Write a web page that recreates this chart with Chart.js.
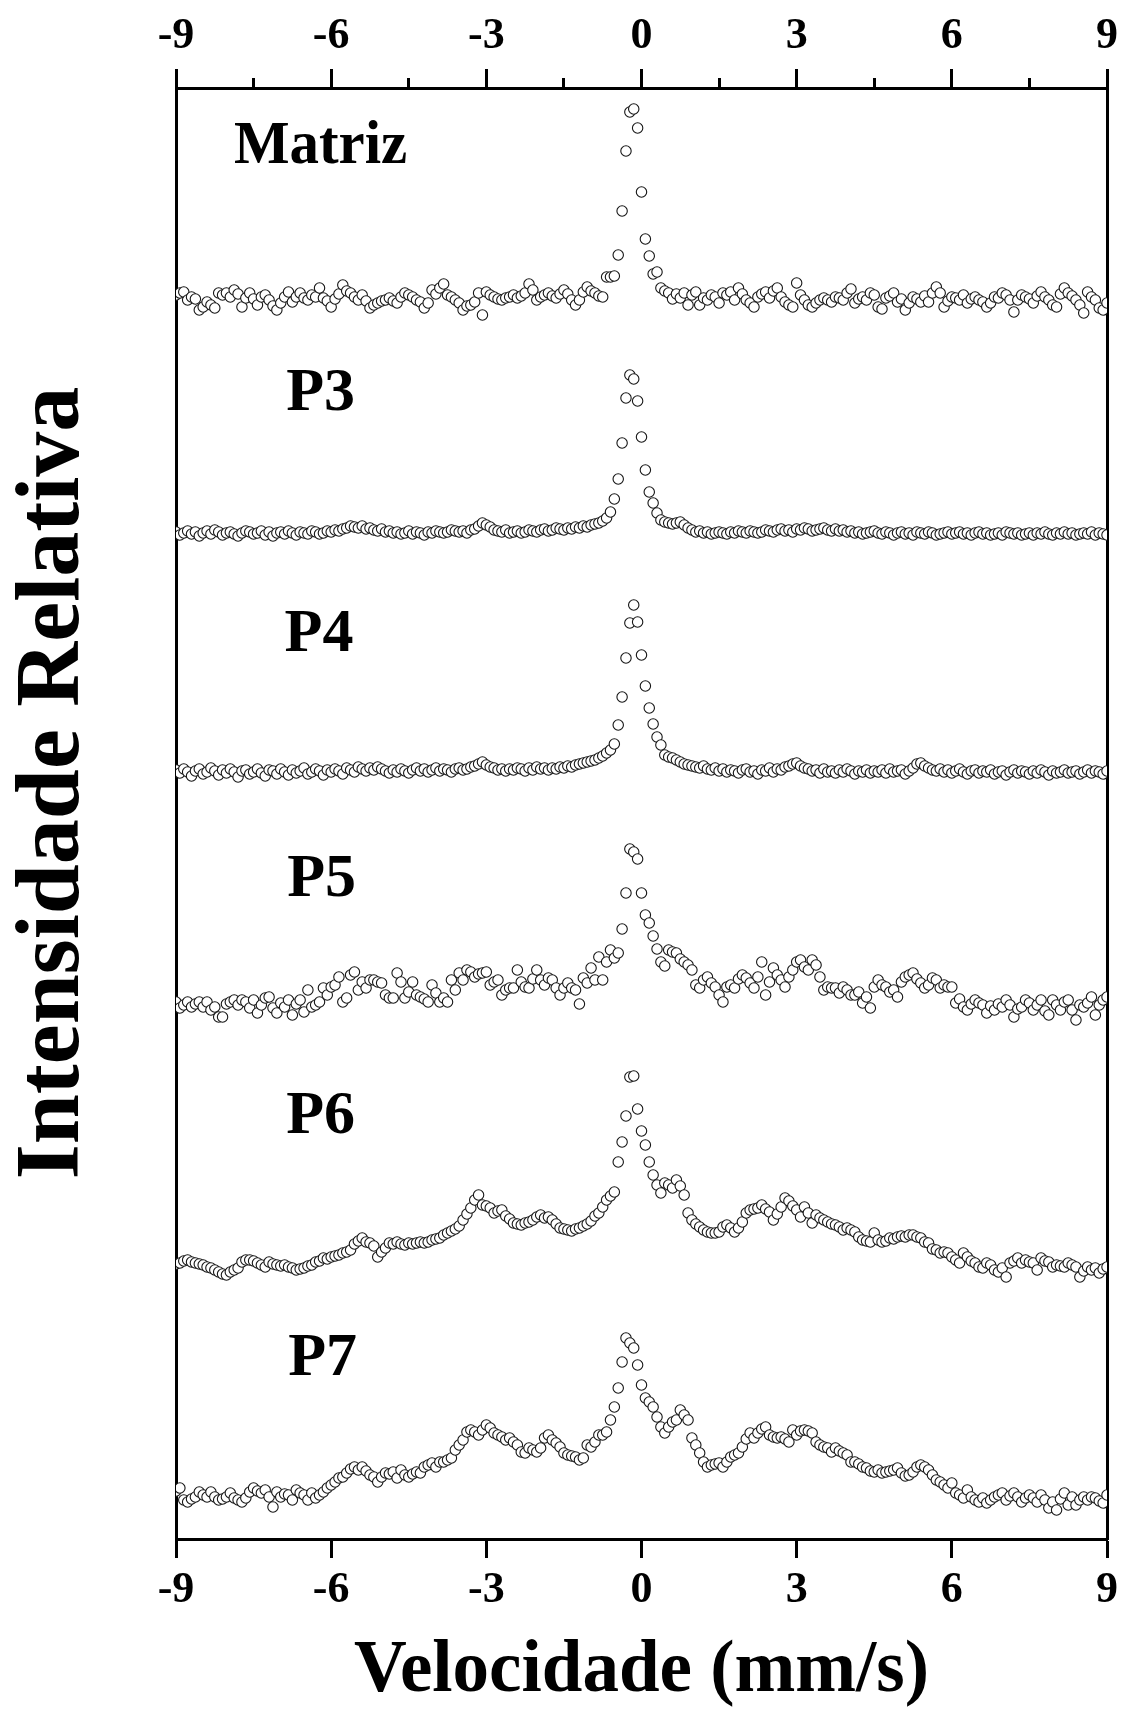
<!DOCTYPE html>
<html>
<head>
<meta charset="utf-8">
<script src="https://cdn.jsdelivr.net/npm/chart.js@4.4.1/dist/chart.umd.min.js"></script>
<style>
html,body{margin:0;padding:0;background:#ffffff;}
canvas{display:block;}
</style>
</head>
<body>
<canvas id="chart" width="1123" height="1718"></canvas>
<script>
// ---- Velocity channels (mm/s) ----
const velocity = [
-9,-8.925,-8.85,-8.775,-8.7,-8.625,-8.55,-8.475,-8.4,-8.325,
-8.25,-8.175,-8.1,-8.025,-7.95,-7.875,-7.8,-7.725,-7.65,-7.575,
-7.5,-7.425,-7.35,-7.275,-7.2,-7.125,-7.05,-6.975,-6.9,-6.825,
-6.75,-6.675,-6.6,-6.525,-6.45,-6.375,-6.3,-6.225,-6.15,-6.075,
-6,-5.925,-5.85,-5.775,-5.7,-5.625,-5.55,-5.475,-5.4,-5.325,
-5.25,-5.175,-5.1,-5.025,-4.95,-4.875,-4.8,-4.725,-4.65,-4.575,
-4.5,-4.425,-4.35,-4.275,-4.2,-4.125,-4.05,-3.975,-3.9,-3.825,
-3.75,-3.675,-3.6,-3.525,-3.45,-3.375,-3.3,-3.225,-3.15,-3.075,
-3,-2.925,-2.85,-2.775,-2.7,-2.625,-2.55,-2.475,-2.4,-2.325,
-2.25,-2.175,-2.1,-2.025,-1.95,-1.875,-1.8,-1.725,-1.65,-1.575,
-1.5,-1.425,-1.35,-1.275,-1.2,-1.125,-1.05,-0.975,-0.9,-0.825,
-0.75,-0.675,-0.6,-0.525,-0.45,-0.375,-0.3,-0.225,-0.15,-0.075,
0,0.075,0.15,0.225,0.3,0.375,0.45,0.525,0.6,0.675,
0.75,0.825,0.9,0.975,1.05,1.125,1.2,1.275,1.35,1.425,
1.5,1.575,1.65,1.725,1.8,1.875,1.95,2.025,2.1,2.175,
2.25,2.325,2.4,2.475,2.55,2.625,2.7,2.775,2.85,2.925,
3,3.075,3.15,3.225,3.3,3.375,3.45,3.525,3.6,3.675,
3.75,3.825,3.9,3.975,4.05,4.125,4.2,4.275,4.35,4.425,
4.5,4.575,4.65,4.725,4.8,4.875,4.95,5.025,5.1,5.175,
5.25,5.325,5.4,5.475,5.55,5.625,5.7,5.775,5.85,5.925,
6,6.075,6.15,6.225,6.3,6.375,6.45,6.525,6.6,6.675,
6.75,6.825,6.9,6.975,7.05,7.125,7.2,7.275,7.35,7.425,
7.5,7.575,7.65,7.725,7.8,7.875,7.95,8.025,8.1,8.175,
8.25,8.325,8.4,8.475,8.55,8.625,8.7,8.775,8.85,8.925,
9
];

// ---- Relative intensity of each spectrum (arbitrary units, above its own baseline) ----
const matriz = [
2,4,5,-3,0,-2,-13,-10,-5,-8,
-11,4,2,4,0,7,3,-10,-1,4,
-2,-8,0,2,-3,-9,-13,-6,0,5,
-5,0,4,-1,-3,2,0,9,-1,-4,
-10,-2,3,12,6,4,0,-3,2,-4,
-11,-8,-6,-4,-3,-1,-4,-6,0,4,
2,0,-3,-5,-11,-6,7,3,9,13,
2,0,-3,-6,-13,-9,-8,-5,4,-18,
5,2,0,-2,-3,-1,0,2,-1,1,
4,13,7,-3,0,2,4,1,-1,3,
7,3,-3,-8,-3,5,10,6,4,1,
0,20,20,21,42,86,146,185,188,169,
105,58,41,23,25,9,6,4,-2,3,
-1,4,-8,2,5,-8,-1,-3,2,0,
-6,4,2,5,-3,9,3,-3,-6,-10,
0,3,5,-1,6,9,0,-5,-8,-10,
14,2,-3,-8,-10,-6,-3,-1,-3,-5,
0,-1,-3,4,8,-6,-2,0,-3,4,
2,-10,-12,-1,1,4,-5,-2,-13,-6,
0,-2,-5,1,-5,4,10,4,-10,-4,
0,-1,-3,2,-6,-2,0,-3,-5,-10,
-6,0,-1,4,2,-3,-15,-3,2,0,
-2,-6,1,5,0,-3,-8,-10,3,9,
4,1,-3,-8,-16,5,0,-3,-11,-13,
-6
];
const p3 = [
1,-2,0,2,-1,1,-3,0,2,-1,
3,1,-2,0,1,-1,-3,0,2,1,
-1,0,2,-2,1,-3,0,1,-1,2,
0,-2,1,0,-1,2,1,-1,0,2,
1,3,2,4,5,7,6,5,7,4,
5,3,2,4,1,2,0,1,-1,0,
2,-1,1,0,-2,1,0,2,1,0,
1,3,2,1,2,0,3,4,7,10,
8,6,3,2,1,3,0,1,2,0,
1,3,2,1,3,4,2,3,5,4,
3,5,4,6,5,7,6,8,9,10,
12,15,21,34,54,90,135,158,154,132,
96,63,41,30,20,13,11,10,9,10,
11,8,5,3,1,2,0,1,-1,0,
1,0,-1,1,0,2,1,0,2,1,
0,1,3,2,1,3,4,2,3,1,
4,3,5,4,2,3,4,5,3,2,
4,2,3,1,2,0,1,-1,0,1,
2,0,-1,1,0,-2,0,1,-1,0,
-2,1,0,-1,1,0,-2,-1,0,1,
-1,0,1,-1,0,-2,0,1,-1,0,
-2,-1,0,-2,1,0,-1,0,-2,-1,
0,-2,0,-1,1,-1,-2,0,-1,1,
-1,0,-2,-1,0,-1,1,-2,0,-1,
-2
];
const p4 = [
2,-1,3,0,-4,1,3,-2,0,4,
1,-3,2,-1,3,0,-5,1,2,-2,
0,3,-1,-4,2,1,-2,3,0,-3,
2,-1,1,4,-2,0,3,1,-3,2,
0,3,1,-2,4,2,0,5,3,1,
4,2,5,3,1,-1,2,0,3,1,
-1,2,4,1,3,0,2,4,1,3,
2,0,3,4,2,3,5,6,8,10,
7,5,4,2,3,1,3,2,4,3,
1,4,2,5,3,4,2,4,3,5,
4,6,5,7,8,9,10,11,12,14,
16,19,22,28,47,75,114,149,167,150,
117,86,64,48,35,27,17,15,14,12,
10,8,7,6,5,4,6,3,2,4,
1,3,0,2,1,-1,2,3,0,1,
-2,2,1,4,0,3,2,5,6,8,
9,6,4,3,1,2,-1,3,0,1,
-1,2,0,3,1,-2,1,0,2,-1,
1,0,2,-1,3,0,1,2,-2,1,
4,8,9,6,4,2,1,3,0,2,
-1,1,3,0,-2,1,2,-1,1,0,
2,-2,0,1,-3,0,2,-1,1,0,
-2,1,-1,2,0,-3,1,-1,0,2,
-1,0,1,-2,0,2,-1,1,0,-2,
1
];
const p5 = [
5,-1,2,5,0,3,5,0,5,-3,
0,-10,-10,3,5,7,2,7,5,-1,
7,-6,2,9,10,-1,-6,4,0,7,
-8,3,7,-5,17,0,2,5,19,12,
20,22,30,5,9,32,35,17,25,19,
27,27,25,24,12,9,9,34,25,9,
15,25,12,10,8,5,22,14,5,9,
5,27,17,34,27,37,35,30,33,34,
35,22,25,27,12,17,19,19,37,25,
20,19,28,37,27,22,29,27,19,12,
19,24,19,17,3,29,24,39,27,50,
27,45,57,49,54,78,114,158,155,148,
114,92,84,71,58,45,41,57,55,54,
48,45,42,37,22,19,27,30,24,20,
12,5,20,22,19,28,32,29,24,19,
30,45,12,25,39,32,27,20,30,37,
45,47,40,37,47,42,30,17,20,19,
19,14,20,17,12,12,15,4,10,-1,
20,27,22,20,15,17,10,25,30,32,
34,28,24,19,22,29,27,19,22,20,
20,4,8,0,-3,3,7,4,2,-6,
1,-3,3,0,7,2,-10,-2,0,7,
4,-3,2,7,-4,-8,7,2,-3,5,
7,-3,-13,2,0,4,10,-8,2,7,
10
];
const p6 = [
2,3,5,6,4,3,2,1,-1,-2,
-4,-6,-8,-9,-6,-4,-2,4,6,6,
5,3,1,-1,4,2,1,0,1,-1,
-2,-4,-3,-2,0,1,4,5,8,7,
9,10,11,13,14,16,22,25,28,24,
23,20,9,14,18,23,22,24,22,21,
23,22,23,24,23,24,26,27,28,31,
33,35,37,40,46,52,58,66,71,61,
60,58,53,55,56,50,47,43,42,41,
43,44,46,49,51,48,49,46,42,38,
37,36,35,37,38,40,42,45,50,53,
59,66,70,74,104,124,150,189,190,157,
135,121,104,91,81,73,83,81,78,86,
80,71,53,46,42,39,36,34,33,33,
34,39,41,38,34,38,44,53,56,57,
58,61,57,54,46,52,59,68,65,60,
56,49,59,53,43,51,48,46,44,42,
41,39,36,38,36,34,29,26,25,24,
33,26,24,25,28,27,29,30,29,31,
31,29,28,24,23,17,16,13,14,13,
9,6,3,13,9,5,3,-1,-2,3,
1,-4,-6,-2,-11,3,5,8,3,6,
4,3,-4,8,5,4,-1,1,0,-1,
3,1,-1,-11,-5,-1,-4,-2,-7,-3,
-1
];
const p7 = [
6,9,-3,-5,-2,0,5,2,0,5,
0,-3,-2,0,4,-1,-3,-5,-1,5,
9,6,4,7,0,-10,5,0,3,2,
-3,7,4,2,-3,4,-1,2,5,9,
12,15,19,20,24,28,30,27,30,26,
22,20,15,20,24,23,25,19,27,22,
20,23,25,24,30,32,34,30,35,35,
37,39,47,52,57,65,67,65,62,67,
72,69,64,62,60,57,59,55,52,45,
44,49,47,45,49,59,62,57,54,50,
44,42,41,40,37,39,52,50,55,62,
62,65,77,90,109,135,159,154,149,132,
112,99,95,90,80,70,64,70,75,77,
87,82,77,59,52,44,35,30,32,33,
34,30,35,40,42,44,50,58,64,59,
64,68,70,62,60,59,60,58,55,67,
62,66,67,66,64,55,52,50,49,45,
49,46,44,42,35,35,33,30,29,26,
25,27,24,25,26,27,29,24,21,22,
25,30,32,30,27,22,17,15,12,9,
14,4,2,-1,7,0,-3,-5,-1,-6,
-3,0,2,4,-3,1,4,0,-5,-1,
2,-1,-5,2,-3,-11,-5,-13,-2,4,
-8,0,-8,-3,0,-3,0,-1,-4,-6,
2
];

const sampleNames = ['Matriz', 'P3', 'P4', 'P5', 'P6', 'P7'];
const spectra = [matriz, p3, p4, p5, p6, p7];
// vertical stacking offset of each spectrum (same units as intensity)
const stackOffsets = [1242, 1006, 767, 532, 273, 42];
// axis definition
const velMin = -9, velMax = 9, majorStep = 3, minorStep = 1.5;
const yMin = 0, yMax = 1451;
const axisTitleX = 'Velocidade (mm/s)';
const axisTitleY = 'Intensidade Relativa';
// sample-name label anchors: velocity and height above own baseline
const labelVel = [-7.88, -6.87, -6.9, -6.85, -6.87, -6.83];
const labelRise = [134, 123, 121, 111, 133, 122];
const labelSqueeze = [0.95, 1, 1, 1, 1, 1];

const FONT = "'Liberation Serif','Times New Roman',Times,serif";

const datasets = spectra.map((vals, i) => ({
  label: sampleNames[i],
  data: vals.map((h, k) => ({ x: velocity[k], y: stackOffsets[i] + h })),
  showLine: false,
  pointStyle: 'circle',
  pointRadius: 5.2,
  pointBorderWidth: 1.1,
  pointBorderColor: '#161616',
  pointBackgroundColor: '#ffffff',
  clip: 0,
  xAxisID: 'x',
  yAxisID: 'y'
}));

const isMajor = v => Math.abs(v / majorStep - Math.round(v / majorStep)) < 1e-6;

const textPlugin = {
  id: 'textPlugin',
  afterDraw(chart) {
    const ctx = chart.ctx;
    const xs = chart.scales.x, ys = chart.scales.y;
    sampleNames.forEach((name, i) => {
      ctx.save();
      ctx.fillStyle = '#000';
      ctx.textAlign = 'left';
      ctx.textBaseline = 'alphabetic';
      ctx.font = 'bold 62px ' + FONT;
      ctx.translate(xs.getPixelForValue(labelVel[i]), ys.getPixelForValue(stackOffsets[i] + labelRise[i]));
      ctx.scale(labelSqueeze[i], 1);
      ctx.fillText(name, 0, 0);
      ctx.restore();
    });
    ctx.save();
    ctx.fillStyle = '#000';
    ctx.font = 'bold 90px ' + FONT;
    ctx.textAlign = 'center';
    ctx.textBaseline = 'alphabetic';
    ctx.translate(78, 783);
    ctx.rotate(-Math.PI / 2);
    ctx.fillText(axisTitleY, 0, 0);
    ctx.restore();
  }
};

new Chart(document.getElementById('chart'), {
  type: 'scatter',
  data: { datasets },
  options: {
    responsive: false,
    animation: false,
    events: [],
    layout: { padding: 0 },
    plugins: { legend: { display: false }, tooltip: { enabled: false } },
    scales: {
      x: {
        type: 'linear', position: 'bottom', min: velMin, max: velMax, z: 1,
        ticks: { stepSize: majorStep, autoSkip: false, maxRotation: 0, color: '#000', padding: 6,
                 font: { family: FONT, size: 44, weight: 'bold' } },
        grid: { drawOnChartArea: false, drawTicks: true, tickLength: 19, tickWidth: 3, tickColor: '#000' },
        border: { display: true, width: 3, color: '#000' },
        title: { display: true, text: axisTitleX, color: '#000', padding: { top: 0, bottom: 2 },
                 font: { family: FONT, size: 73, weight: 'bold' } },
        afterFit(s) { s.height = 179; s.paddingLeft = 0; s.paddingRight = 0; }
      },
      xTop: {
        type: 'linear', position: 'top', min: velMin, max: velMax, z: 1,
        ticks: { stepSize: minorStep, autoSkip: false, maxRotation: 0, color: '#000', padding: 6,
                 font: { family: FONT, size: 44, weight: 'bold' },
                 callback: v => (isMajor(v) ? String(Math.round(v)) : '') },
        grid: { drawOnChartArea: false, drawTicks: true, tickLength: 19, tickWidth: 3, tickColor: '#000',
                tickBorderDash: c => (c.tick && !isMajor(c.tick.value) ? [0, 9, 40, 0] : []) },
        border: { display: true, width: 3, color: '#000' },
        afterFit(s) { s.height = 88; s.paddingLeft = 0; s.paddingRight = 0; }
      },
      y: {
        type: 'linear', position: 'left', min: yMin, max: yMax, z: 1,
        ticks: { display: false },
        grid: { drawOnChartArea: false, drawTicks: false },
        border: { display: true, width: 3, color: '#000' },
        afterFit(s) { s.width = 176; s.paddingTop = 0; s.paddingBottom = 0; }
      },
      yRight: {
        type: 'linear', position: 'right', min: yMin, max: yMax, z: 1,
        ticks: { display: false },
        grid: { drawOnChartArea: false, drawTicks: false },
        border: { display: true, width: 3, color: '#000' },
        afterFit(s) { s.width = 16; s.paddingTop = 0; s.paddingBottom = 0; }
      }
    }
  },
  plugins: [textPlugin]
});
</script>
</body>
</html>
